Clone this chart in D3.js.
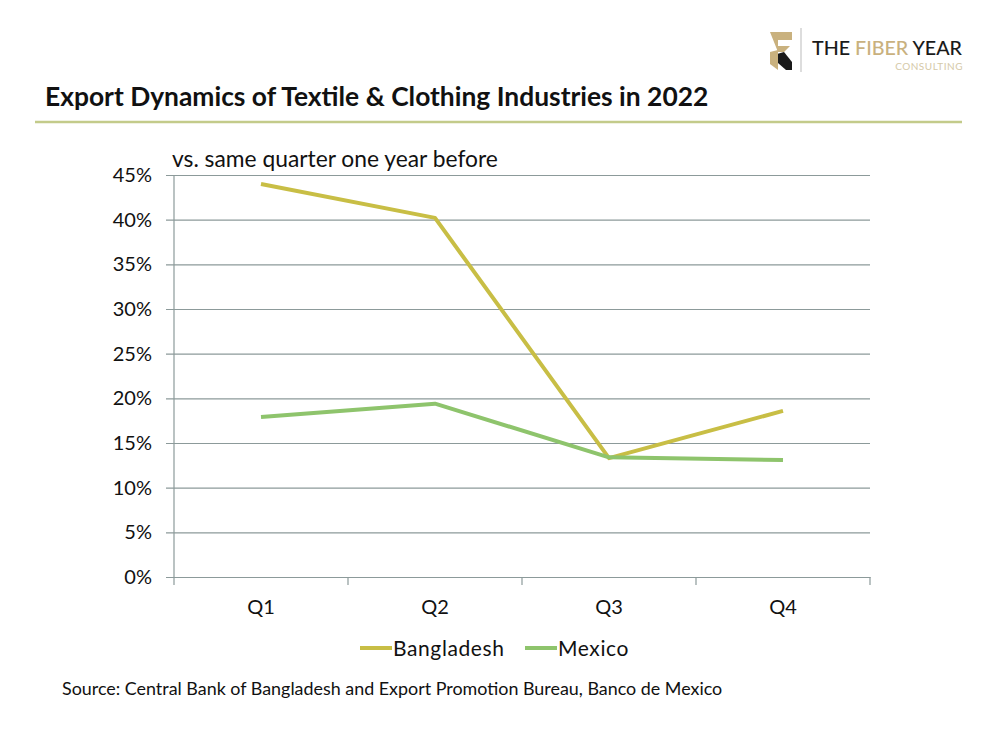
<!DOCTYPE html>
<html><head><meta charset="utf-8">
<script src="https://cdn.jsdelivr.net/npm/d3@7"></script>
<style>body{margin:0;background:#fff}svg{display:block}text{font-family:Lato,"Open Sans",sans-serif}</style>
</head><body>
<script>
const categories = ["Q1","Q2","Q3","Q4"];
const bangladesh = [44.0, 40.2, 13.3, 18.6];
const mexico = [17.9, 19.4, 13.4, 13.1];
const yTicks = [0,5,10,15,20,25,30,35,40,45];
const seriesNames = ["Bangladesh","Mexico"];
const colors = ["#C8BE45","#8EC46C"];

const W=1000,H=750;
const svg=d3.select("body").append("svg").attr("width",W).attr("height",H);
svg.append("rect").attr("width",W).attr("height",H).attr("fill","#fff");

// logo
const lg=svg.append("g");
lg.append("path").attr("d","M770,32 L792,32 L792,40 L778,40 L778,46 L790,46 L784,52 L778,52 Z").attr("fill","#C9B17E");
lg.append("path").attr("d","M770,56 L784,52 L792,62 L792,70 L786,70 Z").attr("fill","#1a1a1a");
lg.append("path").attr("d","M770,52 L778,50 L778,70 L770,64 Z").attr("fill","#C9B17E");
lg.append("line").attr("x1",801).attr("x2",801).attr("y1",28).attr("y2",72).attr("stroke","#bbb").attr("stroke-width",1);
const lt=lg.append("text").attr("x",812).attr("y",55).attr("font-size",20).attr("font-weight",500)
  .attr("textLength",150).attr("lengthAdjust","spacingAndGlyphs");
lt.append("tspan").attr("fill","#1a1a1a").text("THE ");
lt.append("tspan").attr("fill","#C9B17E").text("FIBER");
lt.append("tspan").attr("fill","#1a1a1a").text(" YEAR");
lg.append("text").attr("x",963).attr("y",70).attr("text-anchor","end").attr("font-size",10).attr("fill","#D5C9A8").attr("letter-spacing",0.5).text("CONSULTING");

// title
svg.append("text").attr("x",45).attr("y",106).attr("font-size",26.4).attr("font-weight",700).attr("fill","#111").text("Export Dynamics of Textile & Clothing Industries in 2022");
svg.append("line").attr("x1",35).attr("x2",962).attr("y1",122).attr("y2",122).attr("stroke","#C3CB8A").attr("stroke-width",2.5);

const m={l:174,r:870,t:175,b:577};
const x=d3.scaleBand().domain(categories).range([m.l,m.r]);
const y=d3.scaleLinear().domain([0,45]).range([m.b,m.t]);

// grid
const ga=svg.append("g").attr("transform",`translate(${m.l},0)`)
 .call(d3.axisLeft(y).tickValues(yTicks).tickFormat(d=>d+"%").tickSize(-(m.r-m.l)).tickSizeOuter(0));
ga.select(".domain").remove();
ga.selectAll(".tick line").attr("stroke","#8C9A9A").attr("stroke-width",1.2).attr("x1",-8);
ga.selectAll(".tick text").attr("x",-22).attr("font-size",20).attr("fill","#111").attr("font-family","Lato,sans-serif");
svg.append("line").attr("x1",m.l).attr("x2",m.l).attr("y1",m.t).attr("y2",m.b).attr("stroke","#8C9A9A").attr("stroke-width",1.2);

const xa=svg.append("g").attr("transform",`translate(0,${m.b})`).call(d3.axisBottom(x).tickSize(0));
xa.select(".domain").attr("stroke","#8C9A9A").attr("stroke-width",1.2);
xa.selectAll(".tick text").attr("dy",0).attr("y",37).attr("font-size",20).attr("fill","#111").attr("font-family","Lato,sans-serif");
const edges=categories.map(c=>x(c)).concat([m.r]);
svg.selectAll(".xt").data(edges).join("line").attr("x1",d=>d).attr("x2",d=>d).attr("y1",m.b).attr("y2",m.b+8).attr("stroke","#8C9A9A").attr("stroke-width",1.2);

svg.append("text").attr("x",172).attr("y",167).attr("font-size",22.8).attr("fill","#111").text("vs. same quarter one year before");

const line=d3.line().x((d,i)=>x(categories[i])+x.bandwidth()/2).y(d=>y(d));
[bangladesh,mexico].forEach((s,i)=>{
  svg.append("path").datum(s).attr("d",line).attr("fill","none").attr("stroke",colors[i]).attr("stroke-width",4).attr("stroke-linejoin","round");
});

// legend
const lx=[360,525];
seriesNames.forEach((n,i)=>{
  svg.append("line").attr("x1",lx[i]).attr("x2",lx[i]+32).attr("y1",648).attr("y2",648).attr("stroke",colors[i]).attr("stroke-width",4);
  svg.append("text").attr("x",lx[i]+33).attr("y",656).attr("font-size",21).attr("fill","#111").attr("letter-spacing",0.6).text(n);
});

svg.append("text").attr("x",62).attr("y",695).attr("font-size",17.9).attr("fill","#111").text("Source: Central Bank of Bangladesh and Export Promotion Bureau, Banco de Mexico");
</script>
</body></html>
